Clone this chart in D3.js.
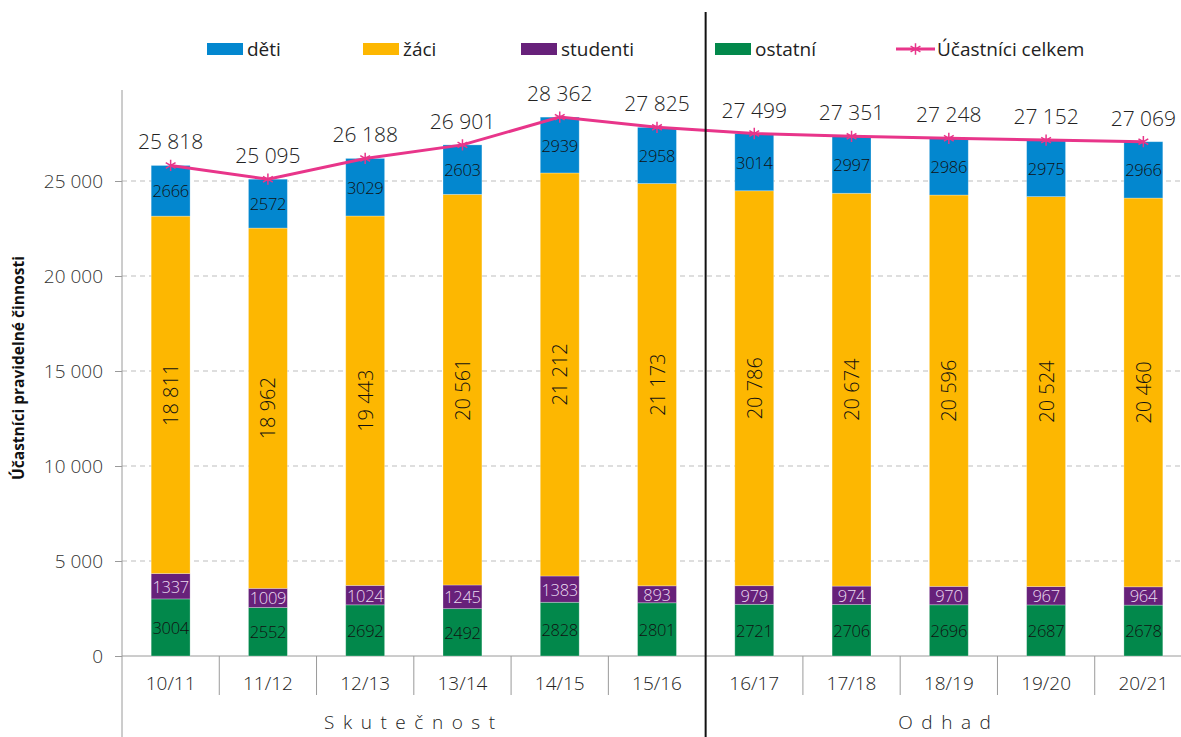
<!DOCTYPE html>
<html><head><meta charset="utf-8">
<script src="https://cdn.jsdelivr.net/npm/d3@7"></script>
<style>
body{margin:0;background:#fff;}
svg text{font-family:"Open Sans","Lato",sans-serif;}
</style></head>
<body><svg id="c" width="1181" height="737"></svg>
<script>
const categories = ["10/11","11/12","12/13","13/14","14/15","15/16","16/17","17/18","18/19","19/20","20/21"];
const ostatni  = [3004,2552,2692,2492,2828,2801,2721,2706,2696,2687,2678];
const studenti = [1337,1009,1024,1245,1383,893,979,974,970,967,964];
const zaci     = [18811,18962,19443,20561,21212,21173,20786,20674,20596,20524,20460];
const deti     = [2666,2572,3029,2603,2939,2958,3014,2997,2986,2975,2966];
const celkem   = [25818,25095,26188,26901,28362,27825,27499,27351,27248,27152,27069];
const yTicks   = [0,5000,10000,15000,20000,25000];
const groups   = [{name:"Skutečnost", from:0, to:5},{name:"Odhad", from:6, to:10}];

const seriesDefs = [
  {key:"ostatni", label:"ostatní", values:ostatni, color:"#02884B", text:"#111"},
  {key:"studenti", label:"studenti", values:studenti, color:"#67217A", text:"#eadcf0"},
  {key:"zaci", label:"žáci", values:zaci, color:"#FDB701", text:"#111"},
  {key:"deti", label:"děti", values:deti, color:"#0387CF", text:"#111"}
];
const lineColor = "#E8358A";

const svg = d3.select("#c");
const x0 = 122, x1 = 1192, yTop = 90, axisBottom = 737;
const x = d3.scaleBand().domain(categories).range([x0,x1]).paddingInner(0.6).paddingOuter(0.3);
const y = d3.scaleLinear().domain([0,30000]).range([656,86]);

const fmt = v => d3.format(",")(v).replace(/,/g," ");

// gridlines
svg.append("g").selectAll("line").data(yTicks.filter(d=>d>0)).join("line")
  .attr("x1",x0).attr("x2",x1).attr("y1",d=>y(d)).attr("y2",d=>y(d))
  .attr("stroke","#bdbdbd").attr("stroke-width",1).attr("stroke-dasharray","5,4");

// y axis
const yAxis = svg.append("g").attr("transform",`translate(${x0},0)`)
  .call(d3.axisLeft(y).tickValues(yTicks).tickFormat(fmt).tickSize(7).tickPadding(12));
yAxis.select(".domain").remove();
yAxis.selectAll(".tick line").attr("stroke","#9a9a9a");
yAxis.selectAll(".tick text").attr("font-size",19).attr("font-weight",300).attr("fill","#333");
svg.append("line").attr("x1",x0).attr("x2",x0).attr("y1",yTop).attr("y2",axisBottom).attr("stroke","#9a9a9a");

// x axis
svg.append("line").attr("x1",x0).attr("x2",x1).attr("y1",y(0)).attr("y2",y(0)).attr("stroke","#9a9a9a");
const step = x.step();
const bounds = d3.range(1,categories.length+1).map(i=>x0 + (x(categories[i-1]) - x0 - x.bandwidth()*0 ) ); 
categories.forEach((c,i)=>{
  const right = x(c) + x.bandwidth()/2 + step/2;
  if (i===5) return;
  svg.append("line").attr("x1",right).attr("x2",right).attr("y1",y(0)).attr("y2",695).attr("stroke","#9a9a9a");
});
svg.append("g").selectAll("text").data(categories).join("text")
  .attr("x",d=>x(d)+x.bandwidth()/2).attr("y",690).attr("text-anchor","middle")
  .attr("font-size",19).attr("font-weight",300).attr("fill","#222").text(d=>d);

// group labels
groups.forEach(g=>{
  const a = x(categories[g.from]) + x.bandwidth()/2 - step/2;
  const b = x(categories[g.to]) + x.bandwidth()/2 + step/2;
  svg.append("text").attr("x",(a+b)/2).attr("y",729).attr("text-anchor","middle")
    .attr("font-size",19).attr("font-weight",300).attr("letter-spacing","0.45em").attr("fill","#222").text(g.name);
});

// stacked bars
const stackData = categories.map((c,i)=>{
  const o = {cat:c};
  seriesDefs.forEach(s=>o[s.key]=s.values[i]);
  return o;
});
const stack = d3.stack().keys(seriesDefs.map(s=>s.key))(stackData);
stack.forEach((layer,li)=>{
  const s = seriesDefs[li];
  const g = svg.append("g");
  g.selectAll("rect").data(layer).join("rect")
    .attr("x",d=>x(d.data.cat)).attr("width",x.bandwidth())
    .attr("y",d=>y(d[1])).attr("height",d=>y(d[0])-y(d[1]))
    .attr("fill",s.color).attr("stroke","rgba(255,255,255,0.35)").attr("stroke-width",0.8);
  g.selectAll("text").data(layer).join("text")
    .attr("font-size", s.key==="zaci"?20:16.5).attr("font-weight", 300).attr("fill",s.text)
    .attr("text-anchor","middle").attr("dominant-baseline","central")
    .attr("transform",d=>{
      const cx = x(d.data.cat)+x.bandwidth()/2, cy = (y(d[0])+y(d[1]))/2;
      return s.key==="zaci" ? `translate(${cx},${cy}) rotate(-90)` : `translate(${cx},${cy})`;
    })
    .attr("letter-spacing", s.key==="zaci"?"0":"-0.3px")
    .text(d=>s.key==="zaci"?fmt(d.data[s.key]):d.data[s.key]);
});

// total line
const cx = c => x(c)+x.bandwidth()/2;
svg.append("path").datum(celkem)
  .attr("d",d3.line().x((d,i)=>cx(categories[i])).y(d=>y(d)))
  .attr("fill","none").attr("stroke",lineColor).attr("stroke-width",3);
const star = d3.symbol().type(d3.symbolAsterisk).size(90);
svg.append("g").selectAll("path").data(celkem).join("path")
  .attr("transform",(d,i)=>`translate(${cx(categories[i])},${y(d)})`)
  .attr("d",star()).attr("fill","none").attr("stroke",lineColor).attr("stroke-width",1.5);
svg.append("g").selectAll("text").data(celkem).join("text")
  .attr("x",(d,i)=>cx(categories[i])).attr("y",d=>y(d)-24).attr("dominant-baseline","central")
  .attr("text-anchor","middle").attr("font-size",21).attr("font-weight",300).attr("fill","#222").text(fmt);

// separator line
const sepX = cx(categories[5]) + step/2;
svg.append("line").attr("x1",sepX).attr("x2",sepX).attr("y1",12).attr("y2",737).attr("stroke","#111").attr("stroke-width",2);

// y title
svg.append("text").attr("transform","translate(24,368) rotate(-90)").attr("text-anchor","middle")
  .attr("font-size",15.5).attr("font-weight",700).attr("fill","#111").text("Účastníci pravidelné činnosti");

// legend
const legend = [
  {label:"děti", color:"#0387CF", x:207},
  {label:"žáci", color:"#FDB701", x:363},
  {label:"studenti", color:"#67217A", x:521},
  {label:"ostatní", color:"#02884B", x:715}
];
const lg = svg.append("g");
legend.forEach(l=>{
  lg.append("rect").attr("x",l.x).attr("y",43).attr("width",36).attr("height",12).attr("fill",l.color);
  lg.append("text").attr("x",l.x+40).attr("y",49).attr("dominant-baseline","central")
    .attr("font-family","Liberation Sans, Arial, sans-serif").attr("font-size",19).attr("fill","#222").text(l.label);
});
lg.append("line").attr("x1",896).attr("x2",935).attr("y1",49).attr("y2",49).attr("stroke",lineColor).attr("stroke-width",3);
lg.append("path").attr("transform","translate(915.5,49)").attr("d",star()).attr("fill","none").attr("stroke",lineColor).attr("stroke-width",1.5);
lg.append("text").attr("x",937).attr("y",49).attr("dominant-baseline","central")
  .attr("font-family","Liberation Sans, Arial, sans-serif").attr("font-size",19).attr("fill","#222").text("Účastníci celkem");
</script></body></html>
